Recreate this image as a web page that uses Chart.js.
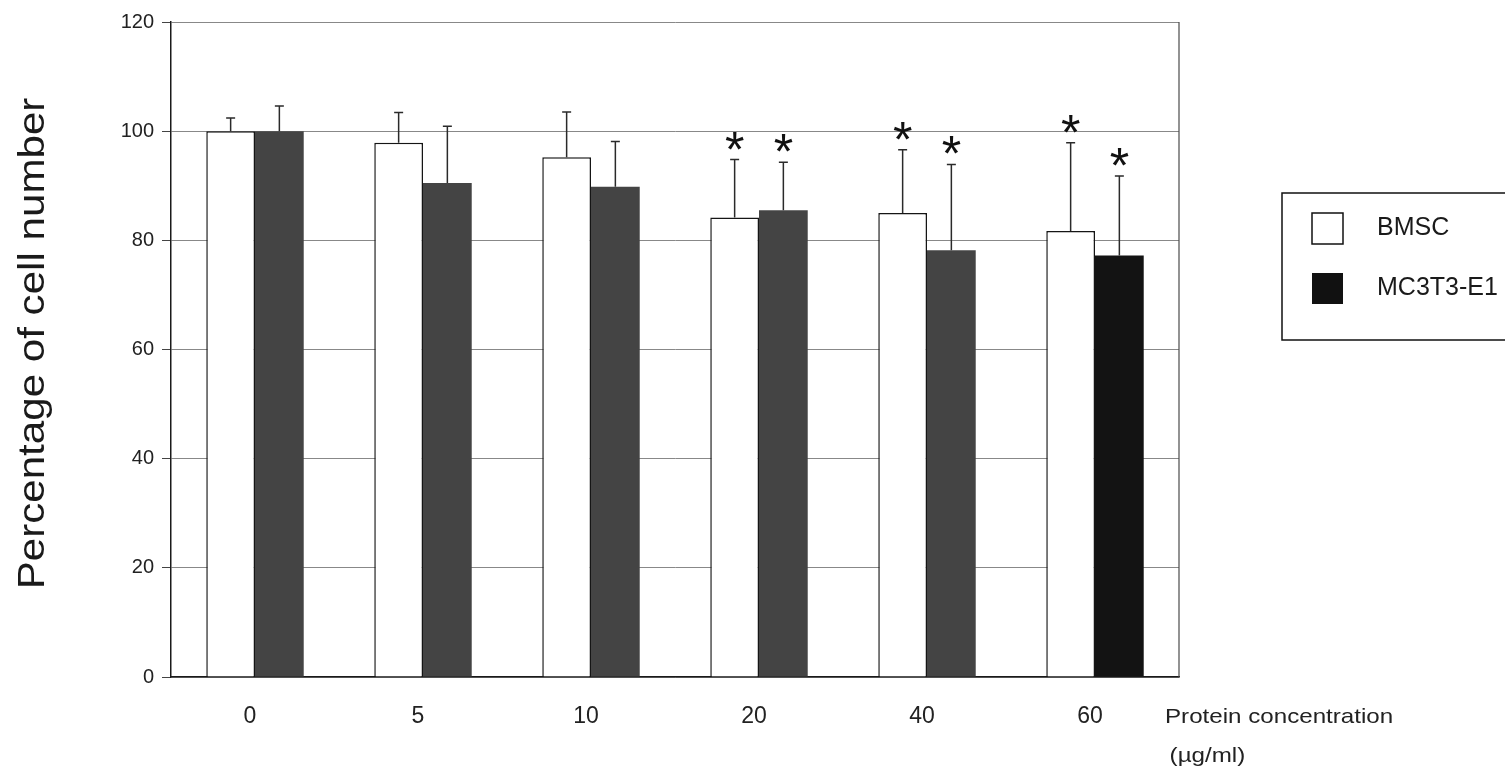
<!DOCTYPE html>
<html>
<head>
<meta charset="utf-8">
<script src="https://cdn.jsdelivr.net/npm/chart.js@4.4.1/dist/chart.umd.min.js"></script>
<style>
  html, body { margin: 0; padding: 0; background: #fff; }
  #wrap { width: 1505px; height: 773px; position: relative; overflow: hidden; }
  canvas { display: block; }
</style>
</head>
<body>
<div id="wrap"><canvas id="c" width="1505" height="773"></canvas></div>
<script>
// Protein concentration groups (µg/ml)
const concentrations = ['0', '5', '10', '20', '40', '60'];

// Cell number as % of control, with standard deviations
const bmscMean  = [100, 97.9, 95.2, 84.2, 85.0, 81.7];
const bmscSD    = [2.4, 5.5, 8.3, 10.6, 11.6, 16.2];
const mc3t3Mean = [100, 90.5, 89.8, 85.5, 78.2, 77.2];
const mc3t3SD   = [4.6, 10.4, 8.3, 8.8, 15.7, 14.6];

// Significant difference from control (*)
const bmscSignificant  = [false, false, false, true, true, true];
const mc3t3Significant = [false, false, false, true, true, true];

// Y axis ticks
const yTicks = [0, 20, 40, 60, 80, 100, 120];

const FONT = '"Liberation Sans", Arial, Helvetica, sans-serif';
Chart.defaults.font.family = FONT;

// Upper SD whiskers plus significance asterisks
const errorBarPlugin = {
  id: 'errorBars',
  afterDatasetsDraw(chart) {
    const ctx = chart.ctx;
    const yScale = chart.scales.y;
    ctx.save();
    ctx.font = '100px ' + FONT;
    const probe = ctx.measureText('*');
    const glyphH100 = probe.actualBoundingBoxAscent + probe.actualBoundingBoxDescent;
    const starSize = 100 * 18 / glyphH100;

    chart.data.datasets.forEach((ds, i) => {
      const meta = chart.getDatasetMeta(i);
      meta.data.forEach((bar, j) => {
        const top = yScale.getPixelForValue(ds.data[j] + ds.errors[j]);
        ctx.strokeStyle = '#2a2a2a';
        ctx.lineWidth = 1.5;
        ctx.beginPath();
        ctx.moveTo(bar.x, bar.y);
        ctx.lineTo(bar.x, top);
        ctx.moveTo(bar.x - 4.5, top);
        ctx.lineTo(bar.x + 4.5, top);
        ctx.stroke();
        if (ds.significant[j]) {
          ctx.font = starSize + 'px ' + FONT;
          const m = ctx.measureText('*');
          const cy = top - 19;
          ctx.fillStyle = '#111';
          ctx.textAlign = 'center';
          ctx.textBaseline = 'alphabetic';
          ctx.fillText('*', bar.x, cy + (m.actualBoundingBoxAscent - m.actualBoundingBoxDescent) / 2);
        }
      });
    });
    ctx.restore();
  }
};

// Frame edge, axis titles and boxed legend
const framePlugin = {
  id: 'frame',
  afterDraw(chart) {
    const ctx = chart.ctx;
    const a = chart.chartArea;
    ctx.save();
    ctx.strokeStyle = '#4a4a4a';
    ctx.lineWidth = 1.2;
    ctx.beginPath();
    ctx.moveTo(a.right, a.top);
    ctx.lineTo(a.right, a.bottom);
    ctx.stroke();

    // y axis title, rotated and slightly widened
    ctx.save();
    ctx.font = '36px ' + FONT;
    const yTitle = 'Percentage of cell number';
    const tm = ctx.measureText(yTitle);
    ctx.translate(34, (a.top + a.bottom) / 2 - 6);
    ctx.rotate(-Math.PI / 2);
    ctx.scale(1.17, 1);
    ctx.fillStyle = '#1a1a1a';
    ctx.textAlign = 'center';
    ctx.textBaseline = 'alphabetic';
    ctx.fillText(yTitle, 0, (tm.actualBoundingBoxAscent - tm.actualBoundingBoxDescent) / 2);
    ctx.restore();

    // x axis caption
    ctx.save();
    ctx.fillStyle = '#222';
    ctx.font = '21px ' + FONT;
    ctx.textAlign = 'left';
    ctx.textBaseline = 'middle';
    ctx.translate(a.right - 14, 717);
    ctx.scale(1.15, 1);
    ctx.fillText('Protein concentration', 0, 0);
    ctx.fillText('(µg/ml)', 4, 39);
    ctx.restore();

    // legend
    ctx.strokeStyle = '#111';
    ctx.lineWidth = 1.5;
    ctx.strokeRect(1282, 193, 260, 147);
    const rows = [228, 288];
    chart.data.datasets.forEach((ds, i) => {
      const cy = rows[i];
      ctx.fillStyle = ds.legendFill;
      ctx.fillRect(1312, cy - 15, 31, 31);
      if (ds.legendFill === '#ffffff') {
        ctx.strokeStyle = '#111';
        ctx.lineWidth = 1.5;
        ctx.strokeRect(1312, cy - 15, 31, 31);
      }
      ctx.fillStyle = '#1a1a1a';
      ctx.font = '25px ' + FONT;
      ctx.textAlign = 'left';
      ctx.textBaseline = 'middle';
      ctx.fillText(ds.label, 1377, cy);
    });
    ctx.restore();
  }
};

new Chart(document.getElementById('c'), {
  type: 'bar',
  data: {
    labels: concentrations,
    datasets: [
      {
        label: 'BMSC',
        data: bmscMean,
        errors: bmscSD,
        significant: bmscSignificant,
        backgroundColor: '#ffffff',
        borderColor: '#151515',
        borderWidth: 1.5,
        legendFill: '#ffffff'
      },
      {
        label: 'MC3T3-E1',
        data: mc3t3Mean,
        errors: mc3t3SD,
        significant: mc3t3Significant,
        backgroundColor: ['#444444', '#444444', '#444444', '#444444', '#444444', '#131313'],
        borderWidth: 0,
        legendFill: '#111111'
      }
    ]
  },
  options: {
    responsive: false,
    animation: false,
    devicePixelRatio: 1,
    categoryPercentage: 0.58,
    barPercentage: 1.0,
    layout: { padding: { top: 22, right: 326, left: 0, bottom: 0 } },
    plugins: {
      legend: { display: false },
      tooltip: { enabled: false }
    },
    scales: {
      x: {
        grid: { display: false, drawTicks: false },
        border: { display: true, color: '#1a1a1a', width: 1.5 },
        ticks: { font: { size: 23 }, color: '#222', padding: 26, labelOffset: -5 },
        afterFit(s) { s.height = 96; }
      },
      y: {
        min: 0,
        max: 120,
        afterBuildTicks(s) { s.ticks = yTicks.map(v => ({ value: v })); },
        ticks: { font: { size: 20 }, color: '#222', padding: 8 },
        grid: { color: '#888888', lineWidth: 1, tickLength: 9, tickColor: '#444', drawTicks: true },
        border: { color: '#1a1a1a', width: 1.5 },
        afterFit(s) { s.width = 171; }
      }
    }
  },
  plugins: [errorBarPlugin, framePlugin]
});
</script>
</body>
</html>
